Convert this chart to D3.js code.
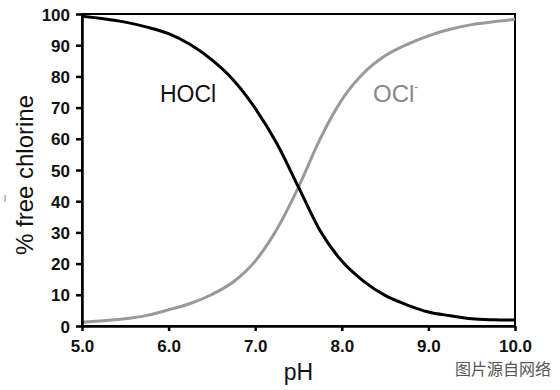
<!DOCTYPE html>
<html>
<head>
<meta charset="utf-8">
<script src="https://cdn.jsdelivr.net/npm/d3@7"></script>
<style>
  body { margin: 0; background: #fff; }
  svg { font-family: "Liberation Sans", Arial, sans-serif; }
</style>
</head>
<body>
<script>
// pH grid and the two species fractions
const pH = [5.0, 5.25, 5.5, 5.75, 6.0, 6.25, 6.5, 6.75, 7.0, 7.25, 7.5,
            7.75, 8.0, 8.25, 8.5, 8.75, 9.0, 9.25, 9.5, 9.75, 10.0];
const hocl = [99.3, 98.5, 97.4, 95.8, 93.7, 90.2, 85.3, 78.8, 69.8, 58.5, 44.5,
              30.5, 20.8, 14.4, 9.8, 6.8, 4.5, 3.3, 2.3, 2.0, 1.9];
const ocl = [1.2, 1.7, 2.3, 3.4, 5.2, 7.2, 10.1, 14.2, 20.8, 31.0, 44.5,
             60.0, 72.5, 81.0, 86.6, 90.2, 93.0, 95.1, 96.6, 97.5, 98.2];
const xTicks = [5, 6, 7, 8, 9, 10];
const yTicks = [0, 10, 20, 30, 40, 50, 60, 70, 80, 90, 100];

const width = 560, height = 390;
const margin = {top: 14, right: 45, bottom: 64, left: 82};

const svg = d3.select('body').append('svg')
    .attr('width', width)
    .attr('height', height);

const x = d3.scaleLinear().domain([5, 10]).range([margin.left, width - margin.right]);
const y = d3.scaleLinear().domain([0, 100]).range([height - margin.bottom, margin.top]);

// frame
svg.append('rect')
    .attr('x', x(5)).attr('y', y(100))
    .attr('width', x(10) - x(5)).attr('height', y(0) - y(100))
    .attr('fill', 'none').attr('stroke', '#000').attr('stroke-width', 2);

const line = d3.line().curve(d3.curveMonotoneX);

svg.append('path')
    .attr('d', line(pH.map((p, i) => [x(p), y(ocl[i])])))
    .attr('fill', 'none').attr('stroke', '#999').attr('stroke-width', 3);

svg.append('path')
    .attr('d', line(pH.map((p, i) => [x(p), y(hocl[i])])))
    .attr('fill', 'none').attr('stroke', '#000').attr('stroke-width', 3);

// axes
const xAxis = svg.append('g')
    .attr('transform', `translate(0,${y(0)})`)
    .call(d3.axisBottom(x).tickValues(xTicks).tickFormat(d3.format('.1f'))
      .tickSize(5).tickSizeOuter(0));
const yAxis = svg.append('g')
    .attr('transform', `translate(${x(5)},0)`)
    .call(d3.axisLeft(y).tickValues(yTicks).tickSize(6).tickSizeOuter(0));

[xAxis, yAxis].forEach(g => {
  g.select('.domain').attr('stroke-width', 2.5);
  g.selectAll('.tick line').attr('stroke-width', 2.5);
  g.selectAll('.tick text')
      .attr('font-family', '"Liberation Sans", Arial, sans-serif')
      .attr('font-size', 17).attr('font-weight', 'bold').attr('fill', '#111');
});
xAxis.selectAll('.tick text').attr('dy', '1.05em');
yAxis.selectAll('.tick text').attr('x', -12).attr('dy', '0.36em');

// axis titles
svg.append('text')
    .attr('x', (x(5) + x(10)) / 2).attr('y', 380)
    .attr('text-anchor', 'middle').attr('font-size', 23).attr('fill', '#111')
    .text('pH');
svg.append('text')
    .attr('transform', 'translate(33,175) rotate(-90)')
    .attr('text-anchor', 'middle').attr('font-size', 24).attr('fill', '#111')
    .text('% free chlorine');
// stray minus mark left of the y title
svg.append('text')
    .attr('x', 4).attr('y', 200)
    .attr('font-size', 8).attr('fill', '#444')
    .text('|');

// series labels
svg.append('text')
    .attr('x', 160).attr('y', 102).attr('font-size', 23).attr('fill', '#111')
    .text('HOCl');
const o = svg.append('text')
    .attr('x', 373).attr('y', 102).attr('font-size', 24).attr('fill', '#888');
o.append('tspan').text('OCl');
o.append('tspan').attr('font-size', 12).attr('dy', -11).text('-');

// watermark
svg.append('text')
    .attr('x', 455).attr('y', 375)
    .attr('font-family', '"Noto Sans CJK SC", sans-serif')
    .attr('font-size', 16).attr('fill', '#555')
    .text('图片源自网络');
</script>
</body>
</html>
